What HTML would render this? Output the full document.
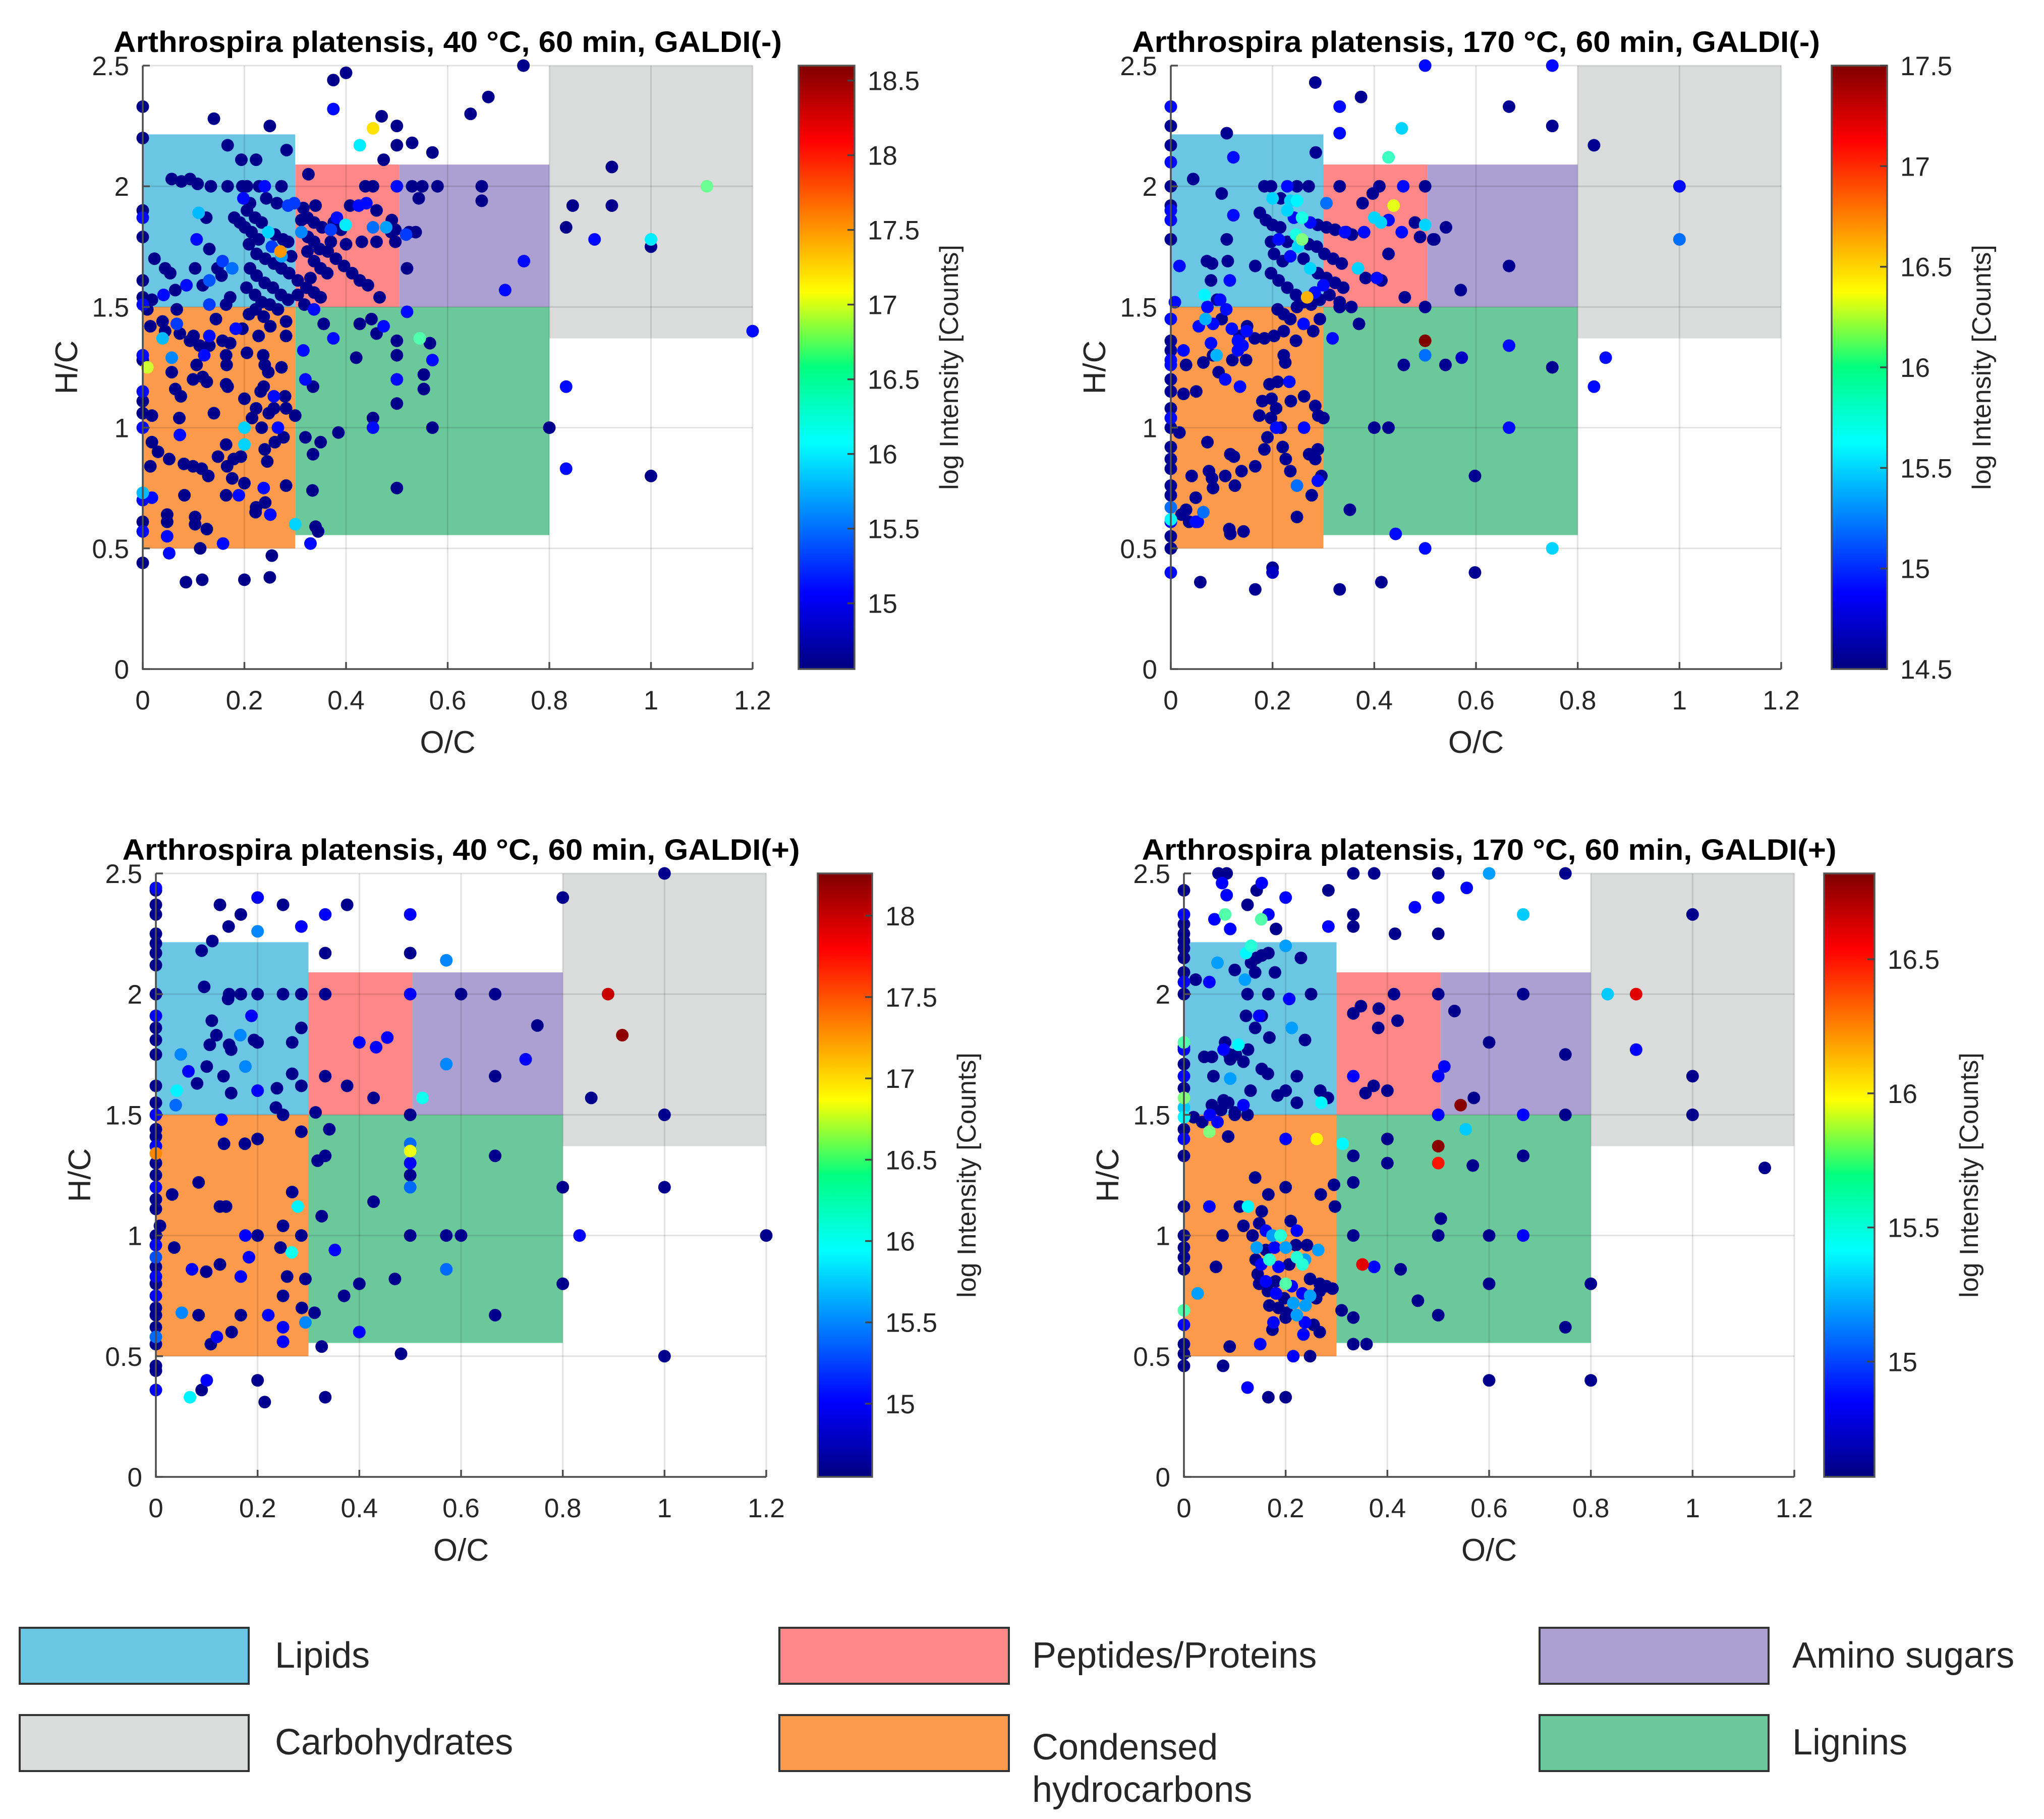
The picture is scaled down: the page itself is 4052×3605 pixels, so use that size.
<!DOCTYPE html>
<html><head><meta charset="utf-8"><title>Van Krevelen diagrams</title>
<style>html,body{margin:0;padding:0;background:#fff}svg{display:block}text{font-family:"Liberation Sans",Arial,sans-serif;fill:#262626}</style>
</head><body>
<svg id="chart" xmlns="http://www.w3.org/2000/svg" width="4052" height="3605" viewBox="0 0 4052 3605">
<defs><linearGradient id="jetgrad" x1="0" y1="1" x2="0" y2="0">
<stop offset="0" stop-color="#000080"/><stop offset="0.125" stop-color="#0000ff"/><stop offset="0.375" stop-color="#00ffff"/><stop offset="0.5" stop-color="#00ff80"/><stop offset="0.625" stop-color="#ffff00"/><stop offset="0.875" stop-color="#ff0000"/><stop offset="1" stop-color="#800000"/></linearGradient></defs>
<g id="legend">
<rect x="39" y="3226" width="454" height="111" fill="#6bc6e3" stroke="#333" stroke-width="4"/>
<text x="545" y="3305" font-size="72">Lipids</text>
<rect x="1545" y="3226" width="455" height="111" fill="#ff8787" stroke="#333" stroke-width="4"/>
<text x="2046" y="3305" font-size="72">Peptides/Proteins</text>
<rect x="3052" y="3226" width="454" height="111" fill="#ac9fd1" stroke="#333" stroke-width="4"/>
<text x="3553" y="3305" font-size="72">Amino sugars</text>
<rect x="39" y="3399" width="454" height="111" fill="#dadcdb" stroke="#333" stroke-width="4"/>
<text x="545" y="3477" font-size="72">Carbohydrates</text>
<rect x="1545" y="3399" width="455" height="111" fill="#fd9a4c" stroke="#333" stroke-width="4"/>
<text x="2046" y="3487" font-size="72">Condensed</text>
<text x="2046" y="3571" font-size="72">hydrocarbons</text>
<rect x="3052" y="3399" width="454" height="111" fill="#6bc89b" stroke="#333" stroke-width="4"/>
<text x="3553" y="3477" font-size="72">Lignins</text>
</g>
</svg>
<script>
const xTicks = [0,0.2,0.4,0.6,0.8,1,1.2];
const yTicks = [0,0.5,1,1.5,2,2.5];
const xTickLabels = ["0","0.2","0.4","0.6","0.8","1","1.2"];
const yTickLabels = ["0","0.5","1","1.5","2","2.5"];
const regionNames = ["lipids","peptides","amino-sugars","carbohydrates","condensed","lignins"];
const regionOC0 = [0,0.3,0.505,0.8,0,0.3];
const regionOC1 = [0.3,0.505,0.8,1.2,0.3,0.8];
const regionHC0 = [1.5,1.5,1.5,1.37,0.5,0.555];
const regionHC1 = [2.215,2.09,2.09,2.5,1.5,1.5];
const regionColors = ["#6bc6e3","#ff8787","#ac9fd1","#dadcdb","#fd9a4c","#6bc89b"];

const titles = ["Arthrospira platensis, 40 °C, 60 min, GALDI(-)","Arthrospira platensis, 170 °C, 60 min, GALDI(-)","Arthrospira platensis, 40 °C, 60 min, GALDI(+)","Arthrospira platensis, 170 °C, 60 min, GALDI(+)"];
const cbMin = [14.56,14.5,14.55,14.57];
const cbMax = [18.6,17.5,18.26,16.82];
const cbTicks0 = [15,15.5,16,16.5,17,17.5,18,18.5];
const cbTicks1 = [14.5,15,15.5,16,16.5,17,17.5];
const cbTicks2 = [15,15.5,16,16.5,17,17.5,18];
const cbTicks3 = [15,15.5,16,16.5];

// points: [O/C, H/C, log intensity]
const tlPoints = [[0.749,2.5,14.6],[0.375,2.32,15.1],[0.375,2.44,14.6],[0.40,2.47,14.6],[0.25,2.25,14.6],[0.14,2.28,14.6],[0,2.33,14.6],[0,2.2,14.6],[0.453,2.24,17.2],[0.427,2.17,16.0],[0.47,2.29,14.6],[0.5,2.25,14.6],[0.5,2.17,14.6],[0.53,2.18,14.6],[0.57,2.14,14.6],[0.645,2.3,14.6],[0.68,2.37,14.6],[0.474,2.11,14.6],[0.326,2.05,14.6],[0.923,2.08,14.6],[1.11,2.0,16.5],[0.846,1.92,14.6],[0.923,1.92,14.6],[0.833,1.83,14.6],[0.889,1.78,15.1],[1.0,1.78,16.0],[1.0,1.75,14.6],[1.2,1.40,15.1],[0.75,1.69,15.1],[0.713,1.57,15.1],[0.667,2.0,14.6],[0.667,1.94,14.6],[0.58,2.0,14.6],[0.543,1.95,14.6],[0.55,2.0,14.6],[0.53,2.0,14.6],[0.5,2.0,15.1],[0.833,1.17,15.1],[0.8,1.0,14.6],[0.833,0.83,15.1],[1.0,0.80,14.6],[0.5,0.75,14.6],[0.5,1.10,14.6],[0.5,1.2,15.1],[0.5,1.3,14.6],[0.5,1.36,14.6],[0.57,1.0,14.6],[0.553,1.16,14.6],[0.553,1.22,14.6],[0.57,1.28,15.1],[0.565,1.35,14.6],[0.545,1.37,16.4],[0.52,1.48,15.1],[0.474,1.42,15.1],[0.46,1.39,14.6],[0.45,1.45,14.6],[0.427,1.43,14.6],[0.42,1.29,14.6],[0.453,1.04,14.6],[0.453,1.0,15.1],[0.385,0.98,14.6],[0.35,0.94,14.6],[0.335,0.89,14.6],[0.32,0.96,14.6],[0.30,1.05,14.6],[0.32,1.2,15.1],[0.335,1.17,14.6],[0.316,1.32,15.1],[0.375,1.37,15.1],[0.356,1.43,14.6],[0.334,0.74,14.6],[0.34,0.59,14.6],[0.345,0.57,14.6],[0.33,0.52,15.1],[0.3,0.60,15.9],[0.254,0.47,14.6],[0.25,0.38,14.6],[0.2,0.37,14.6],[0.117,0.37,14.6],[0.085,0.36,14.6],[0.052,0.48,15.1],[0,0.44,14.6],[0.113,0.50,14.6],[0.158,0.52,15.1],[0,0.61,14.6],[0,0.57,15.1],[0,0.70,15.1],[0,0.73,15.8],[0.018,0.71,15.1],[0.048,0.64,14.6],[0.048,0.61,14.6],[0.048,0.55,15.1],[0.082,0.72,14.6],[0.126,0.58,14.6],[0.103,0.63,14.6],[0.103,0.60,14.6],[0.223,0.67,14.6],[0.2,0.77,14.6],[0.238,0.75,15.1],[0.282,0.76,14.6],[0.009,1.25,16.9],[0,1.28,14.6],[0,1.30,15.1],[0,1.15,15.1],[0,1.06,14.6],[0,1.0,15.1],[0,1.11,14.6],[0.018,1.05,14.6],[0.018,0.94,14.6],[0.03,0.90,14.6],[0.015,0.84,14.6],[0.015,1.42,14.6],[0.039,1.37,15.8],[0.057,1.29,15.6],[0.057,1.23,14.6],[0.064,1.16,14.6],[0.075,1.13,14.6],[0.072,1.04,14.6],[0.073,0.97,15.1],[0.052,0.87,14.6],[0.081,0.85,14.6],[0.099,0.84,14.6],[0.116,0.83,14.6],[0.129,0.80,14.6],[0.148,0.88,14.6],[0.166,0.84,14.6],[0.179,0.87,14.6],[0.193,0.88,14.6],[0.164,0.93,14.6],[0.099,1.2,14.6],[0.126,1.19,14.6],[0.167,1.17,14.6],[0.14,1.06,14.6],[0.2,1.12,14.6],[0.2,1.0,15.9],[0.2,0.93,15.9],[0.215,1.04,14.6],[0.223,1.08,14.6],[0.234,1.0,14.6],[0.248,1.06,14.6],[0.24,0.91,14.6],[0.245,0.86,14.6],[0.26,0.94,14.6],[0.277,0.96,14.6],[0.258,1.08,14.6],[0.282,1.08,14.6],[0.232,1.15,14.6],[0.258,1.13,15.1],[0.238,1.17,14.6],[0.205,1.31,14.6],[0.237,1.30,14.6],[0.247,1.23,14.6],[0.282,1.38,14.6],[0.282,1.44,14.6],[0.251,1.42,14.6],[0.228,1.38,14.6],[0.196,1.41,14.6],[0.209,1.47,14.6],[0.222,1.49,14.6],[0.238,1.46,14.6],[0.172,1.35,14.6],[0.157,1.36,14.6],[0.164,1.30,14.6],[0.165,1.26,14.6],[0.164,1.18,14.6],[0.131,1.34,14.6],[0.112,1.34,14.6],[0.093,1.36,14.6],[0.121,1.30,15.1],[0.106,1.26,14.6],[0.118,1.21,14.6],[0.144,1.45,14.6],[0.131,1.38,15.1],[0.1,1.38,14.6],[0.073,1.39,14.6],[0.067,1.43,15.3],[0.039,1.44,14.6],[0.044,1.40,14.6],[0.183,1.41,15.1],[0.24,1.26,14.6],[0.273,1.25,14.6],[0.28,1.13,14.6],[0.266,1.0,15.1],[0.176,0.79,14.6],[0.189,0.72,15.1],[0.241,0.69,14.6],[0.251,0.64,15.1],[0.222,0.65,14.6],[0.164,0.72,14.6],[0,1.9,14.6],[0,1.87,15.1],[0,1.79,14.6],[0,1.61,14.6],[0,1.54,14.6],[0,1.51,15.1],[0.018,1.53,14.6],[0.009,1.49,14.6],[0.023,1.70,14.6],[0.044,1.66,14.6],[0.054,1.64,14.6],[0.041,1.55,15.1],[0.064,1.57,14.6],[0.067,1.49,14.6],[0.086,1.59,15.1],[0.057,2.03,14.6],[0.076,2.02,14.6],[0.093,2.03,14.6],[0.108,2.01,14.6],[0.134,2.0,14.6],[0.11,1.89,15.8],[0.125,1.87,14.6],[0.106,1.78,15.1],[0.131,1.74,14.6],[0.103,1.66,14.6],[0.131,1.61,15.4],[0.118,1.59,14.6],[0.131,1.51,15.3],[0.164,1.51,14.6],[0.157,1.69,15.3],[0.176,1.66,15.5],[0.172,1.54,14.6],[0.155,1.63,14.6],[0.147,1.66,14.6],[0.167,2.17,14.6],[0.194,2.11,14.6],[0.223,2.11,14.6],[0.283,2.15,14.6],[0.167,2.0,14.6],[0.196,2.0,14.6],[0.205,2.0,14.6],[0.229,2.0,14.6],[0.24,2.0,15.1],[0.273,2.0,14.6],[0.198,1.95,15.1],[0.211,1.93,14.6],[0.243,1.95,14.6],[0.264,1.93,14.6],[0.18,1.87,14.6],[0.191,1.85,14.6],[0.201,1.83,14.6],[0.214,1.81,14.6],[0.228,1.78,14.6],[0.205,1.90,14.6],[0.221,1.87,14.6],[0.234,1.85,14.6],[0.247,1.81,15.9],[0.26,1.80,14.6],[0.276,1.78,14.6],[0.286,1.77,14.6],[0.209,1.76,14.6],[0.224,1.72,14.6],[0.241,1.70,14.6],[0.258,1.68,14.6],[0.273,1.66,14.6],[0.288,1.64,14.6],[0.305,1.61,14.6],[0.322,1.58,14.6],[0.337,1.56,14.6],[0.35,1.54,14.6],[0.211,1.66,14.6],[0.224,1.63,14.6],[0.24,1.60,14.6],[0.256,1.58,14.6],[0.272,1.55,14.6],[0.286,1.53,14.6],[0.204,1.58,14.6],[0.221,1.55,14.6],[0.234,1.52,14.6],[0.25,1.51,14.6],[0.266,1.49,14.6],[0.273,1.71,15.7],[0.254,1.75,15.3],[0.271,1.73,17.5],[0.292,1.71,14.6],[0.312,1.86,14.6],[0.324,1.87,14.6],[0.337,1.85,14.6],[0.353,1.83,14.6],[0.34,1.92,14.6],[0.316,1.91,14.6],[0.298,1.93,15.3],[0.286,1.92,15.3],[0.312,1.81,15.6],[0.325,1.79,14.6],[0.337,1.77,14.6],[0.348,1.74,14.6],[0.364,1.73,14.6],[0.38,1.70,14.6],[0.396,1.67,14.6],[0.412,1.64,14.6],[0.427,1.61,14.6],[0.443,1.59,14.6],[0.466,1.54,14.6],[0.324,1.73,14.6],[0.337,1.69,14.6],[0.35,1.66,14.6],[0.363,1.64,14.6],[0.33,1.62,14.6],[0.305,1.55,14.6],[0.318,1.51,14.6],[0.337,1.49,15.1],[0.376,1.85,14.6],[0.39,1.82,14.6],[0.399,1.84,16.0],[0.382,1.87,15.1],[0.37,1.82,15.3],[0.408,1.92,14.6],[0.425,1.92,15.1],[0.438,2.0,14.6],[0.453,2.0,14.6],[0.44,1.93,15.1],[0.46,1.90,14.6],[0.453,1.83,15.5],[0.479,1.83,15.7],[0.489,1.81,14.6],[0.497,1.82,14.6],[0.518,1.80,15.3],[0.524,1.81,14.6],[0.537,1.81,14.6],[0.497,1.77,14.6],[0.46,1.77,14.6],[0.431,1.77,14.6],[0.49,1.86,14.6],[0.52,1.66,14.6],[0.40,1.76,14.6],[0.37,1.77,14.6]];

const trPoints = [[0.5,2.5,14.9],[0.75,2.5,14.9],[0.284,2.43,14.55],[0.332,2.33,14.9],[0.374,2.37,14.55],[0.332,2.22,14.9],[0.454,2.24,15.5],[0.428,2.12,15.8],[0.665,2.33,14.55],[0.75,2.25,14.55],[0.832,2.17,14.55],[1.0,2.0,14.9],[1.0,1.78,15.2],[0.855,1.29,14.9],[0.832,1.17,14.9],[0.665,1.67,14.55],[0.57,1.57,14.55],[0.541,1.83,14.55],[0.518,1.78,14.55],[0.5,1.5,14.55],[0.5,1.36,17.5],[0.5,1.30,15.2],[0.54,1.26,14.55],[0.572,1.29,14.7],[0.665,1.34,14.9],[0.75,1.25,14.55],[0.458,1.26,14.55],[0.4,1.0,14.55],[0.428,1.0,14.55],[0.665,1.0,14.9],[0.598,0.80,14.55],[0.352,0.66,14.55],[0.442,0.56,14.9],[0.5,0.5,14.9],[0.75,0.5,15.5],[0.598,0.40,14.55],[0.414,0.36,14.55],[0.332,0.33,14.55],[0.2,0.42,14.55],[0.2,0.40,14.7],[0.166,0.33,14.55],[0.058,0.36,14.55],[0,0.40,14.9],[0.37,1.43,14.55],[0.318,1.37,14.9],[0.46,1.54,14.55],[0.355,1.50,14.55],[0.332,2.0,14.55],[0.41,2.0,14.55],[0.457,2.0,14.9],[0.5,2.0,14.55],[0.397,1.97,14.55],[0.377,1.93,14.55],[0.438,1.92,16.3],[0.413,1.85,15.5],[0.4,1.87,15.5],[0.428,1.86,14.9],[0.454,1.81,14.9],[0.48,1.85,14.55],[0.5,1.84,15.5],[0.49,1.79,14.55],[0.516,1.78,14.55],[0.428,1.72,14.55],[0.405,1.62,14.9],[0.414,1.61,14.55],[0.38,1.81,14.9],[0.356,1.80,14.55],[0.342,1.81,14.9],[0.368,1.66,15.5],[0.383,1.62,14.55],[0.285,2.14,14.55],[0.11,2.22,14.55],[0.123,2.12,14.9],[0.044,2.03,14.55],[0.1,1.97,14.55],[0.123,1.88,14.9],[0.11,1.78,14.55],[0.112,1.69,14.55],[0.081,1.68,14.55],[0.071,1.69,14.55],[0.116,1.61,14.9],[0.079,1.61,14.55],[0.017,1.67,14.9],[0.008,1.52,14.9],[0,2.33,14.9],[0,2.25,14.55],[0,2.17,14.55],[0,2.10,14.9],[0,2.0,14.55],[0,1.92,14.55],[0,1.9,14.9],[0,1.86,14.9],[0,1.78,14.55],[0,1.45,14.9],[0,1.36,14.55],[0,1.32,14.55],[0,1.28,14.9],[0,1.26,14.9],[0,1.2,14.55],[0,1.15,14.55],[0,1.08,14.55],[0,1.04,14.9],[0,1.0,14.55],[0,0.92,14.55],[0,0.87,14.55],[0,0.83,14.55],[0,0.76,14.55],[0,0.72,14.55],[0,0.67,15.2],[0,0.62,15.6],[0,0.61,14.9],[0,0.55,14.55],[0,0.5,14.55],[0.017,0.98,14.55],[0.025,1.32,14.9],[0.03,1.26,14.55],[0.025,1.14,14.55],[0.05,1.15,14.55],[0.03,0.66,14.55],[0.021,0.64,14.55],[0.036,0.61,14.55],[0.049,0.61,14.9],[0.053,0.61,14.9],[0.064,0.65,15.2],[0.049,0.71,14.55],[0.041,0.80,14.55],[0.072,0.94,14.55],[0.075,0.82,14.55],[0.083,0.75,14.55],[0.081,0.79,14.55],[0.107,0.80,14.55],[0.126,0.76,14.55],[0.115,0.58,14.55],[0.117,0.56,14.55],[0.143,0.57,14.55],[0.139,0.82,14.55],[0.117,0.89,14.55],[0.124,0.88,14.55],[0.166,0.84,14.55],[0.184,0.91,14.55],[0.19,0.96,14.55],[0.207,1.0,14.9],[0.216,1.0,14.55],[0.197,1.04,14.55],[0.18,1.11,14.55],[0.198,1.12,14.55],[0.207,1.08,14.55],[0.194,1.18,14.55],[0.21,1.19,14.55],[0.233,1.19,14.9],[0.236,1.11,14.55],[0.262,1.13,14.55],[0.262,1.0,14.9],[0.284,1.09,14.55],[0.29,1.05,14.55],[0.3,1.04,14.55],[0.289,0.91,14.55],[0.272,0.89,14.55],[0.284,0.87,14.55],[0.296,0.80,14.55],[0.289,0.78,14.9],[0.277,0.72,14.55],[0.248,0.76,15.2],[0.248,0.63,14.55],[0.235,0.82,14.55],[0.226,0.87,14.55],[0.22,0.92,14.55],[0.174,1.05,14.55],[0.225,1.27,14.55],[0.222,1.30,14.55],[0.064,1.27,14.55],[0.083,1.30,14.55],[0.094,1.23,14.55],[0.107,1.20,14.9],[0.121,1.28,14.55],[0.136,1.17,14.9],[0.148,1.28,14.55],[0.165,1.37,14.55],[0.184,1.37,14.55],[0.203,1.38,14.55],[0.222,1.40,14.55],[0.246,1.36,14.55],[0.261,1.43,14.9],[0.28,1.40,14.55],[0.293,1.45,14.55],[0.079,1.35,14.9],[0.1,1.45,14.55],[0.12,1.41,14.9],[0.135,1.38,14.55],[0.15,1.42,14.55],[0.109,1.49,14.9],[0.091,1.53,14.55],[0.072,1.50,14.9],[0.068,1.45,15.4],[0.066,1.55,15.6],[0.097,1.53,14.9],[0.09,1.30,15.4],[0.055,1.42,14.9],[0.083,1.43,14.9],[0.141,1.34,14.9],[0.132,1.36,14.9],[0.132,1.32,14.9],[0.149,1.40,14.9],[0.166,1.67,14.55],[0.184,2.0,14.55],[0.197,2.0,14.55],[0.229,2.0,14.9],[0.248,2.0,14.55],[0.271,2.0,14.55],[0.2,1.95,15.5],[0.216,1.95,14.55],[0.235,1.94,15.5],[0.248,1.94,15.6],[0.306,1.93,15.2],[0.175,1.89,14.55],[0.187,1.86,14.55],[0.2,1.84,14.55],[0.215,1.83,14.55],[0.229,1.90,15.5],[0.242,1.87,14.9],[0.258,1.87,15.7],[0.274,1.85,14.9],[0.289,1.84,14.55],[0.306,1.83,14.55],[0.323,1.82,14.55],[0.345,1.81,14.55],[0.197,1.77,14.55],[0.212,1.78,14.9],[0.229,1.77,14.55],[0.246,1.80,15.7],[0.258,1.78,16.0],[0.271,1.76,14.55],[0.25,1.75,15.5],[0.287,1.75,14.55],[0.302,1.72,14.55],[0.319,1.70,14.55],[0.336,1.68,14.55],[0.203,1.72,14.55],[0.22,1.69,14.55],[0.235,1.71,14.9],[0.261,1.70,14.55],[0.274,1.66,15.5],[0.289,1.64,14.55],[0.306,1.62,14.55],[0.323,1.60,14.55],[0.339,1.58,14.55],[0.197,1.64,14.55],[0.212,1.61,14.55],[0.229,1.58,14.55],[0.246,1.55,14.55],[0.261,1.52,14.55],[0.276,1.51,14.55],[0.293,1.53,14.55],[0.312,1.55,14.55],[0.332,1.52,14.55],[0.332,1.50,14.55],[0.268,1.54,16.6],[0.21,1.49,14.55],[0.222,1.47,14.55],[0.235,1.45,14.55],[0.248,1.50,14.55],[0.283,1.56,14.9],[0.3,1.59,14.9]];

const blPoints = [[1.0,2.5,14.6],[0.8,2.4,14.6],[0,2.44,15.0],[0,2.43,14.6],[0,2.37,14.6],[0,2.33,14.6],[0,2.25,14.6],[0,2.21,14.6],[0,2.17,14.6],[0,2.12,14.6],[0,2.0,14.6],[0,1.91,15.0],[0,1.86,14.6],[0,1.81,14.6],[0,1.75,14.6],[0,1.62,14.6],[0,1.55,14.6],[0,1.5,15.0],[0,1.44,14.6],[0,1.41,14.6],[0,1.37,15.0],[0,1.34,17.3],[0,1.30,14.6],[0,1.25,14.6],[0,1.2,15.0],[0,1.15,14.6],[0,1.11,14.6],[0,1.0,14.6],[0,0.96,15.0],[0,0.91,15.3],[0,0.87,14.6],[0,0.83,15.0],[0,0.80,14.6],[0,0.75,15.0],[0,0.70,14.6],[0,0.67,14.6],[0,0.62,14.6],[0,0.58,15.4],[0,0.55,14.6],[0,0.46,14.6],[0,0.44,14.6],[0,0.36,15.0],[0.067,0.33,15.9],[0.09,0.36,14.6],[0.1,0.40,15.0],[0.2,0.40,14.6],[0.214,0.31,14.6],[0.333,0.33,14.6],[0.482,0.51,14.6],[1.0,0.5,14.6],[1.0,1.2,14.6],[1.0,1.5,14.6],[1.2,1.0,14.6],[0.833,1.0,15.0],[0.8,1.2,14.6],[0.8,0.8,14.6],[0.856,1.57,14.6],[0.889,2.0,18.0],[0.917,1.83,18.2],[0.75,1.87,14.6],[0.727,1.73,15.0],[0.667,2.0,14.6],[0.6,2.0,14.6],[0.667,1.66,14.6],[0.571,1.71,15.5],[0.571,2.14,15.5],[0.5,2.17,14.6],[0.5,2.33,15.0],[0.5,2.0,15.0],[0.333,2.33,15.0],[0.333,2.17,14.6],[0.376,2.37,14.6],[0.286,2.28,15.0],[0.25,2.37,14.6],[0.2,2.4,15.0],[0.2,2.26,15.5],[0.126,2.37,14.6],[0.167,2.33,14.6],[0.143,2.28,14.6],[0.111,2.22,14.6],[0.09,2.18,14.6],[0.095,2.03,14.6],[0.144,2.0,14.6],[0.167,2.0,14.6],[0.2,2.0,14.6],[0.25,2.0,14.6],[0.286,2.0,14.6],[0.333,2.0,14.6],[0.142,1.98,14.6],[0.11,1.89,14.6],[0.119,1.83,14.6],[0.106,1.79,14.6],[0.144,1.79,14.6],[0.148,1.77,14.6],[0.166,1.83,15.5],[0.188,1.91,15.0],[0.193,1.81,14.6],[0.2,1.80,14.6],[0.268,1.80,14.6],[0.286,1.86,14.6],[0.176,1.70,15.5],[0.1,1.70,14.6],[0.064,1.68,15.0],[0.049,1.75,15.5],[0.133,1.66,14.6],[0.081,1.63,14.6],[0.148,1.59,14.6],[0.2,1.60,15.0],[0.238,1.61,14.6],[0.268,1.67,14.6],[0.286,1.62,14.6],[0.041,1.60,15.9],[0.039,1.54,15.4],[0.236,1.53,14.6],[0.25,1.5,14.6],[0.129,1.48,15.0],[0.134,1.38,14.6],[0.175,1.38,14.6],[0.2,1.40,14.6],[0.286,1.43,14.6],[0.084,1.22,14.6],[0.032,1.17,14.6],[0.268,1.18,14.6],[0.126,1.12,14.6],[0.138,1.12,14.6],[0.279,1.12,15.9],[0.176,1.0,15.0],[0.2,1.0,14.6],[0.25,1.04,14.6],[0.286,1.0,14.6],[0.036,0.95,14.6],[0.245,0.95,14.6],[0.267,0.93,16.0],[0.183,0.91,15.0],[0.126,0.88,14.6],[0.071,0.86,15.0],[0.099,0.85,14.6],[0.167,0.83,15.0],[0.258,0.83,14.6],[0.294,0.82,14.6],[0.25,0.75,14.6],[0.287,0.70,14.6],[0.312,0.68,14.6],[0.051,0.68,15.5],[0.084,0.67,14.6],[0.167,0.67,14.6],[0.221,0.67,15.0],[0.294,0.64,15.5],[0.25,0.62,15.0],[0.149,0.60,14.6],[0.12,0.58,15.0],[0.108,0.55,14.6],[0.25,0.56,15.0],[0.326,0.54,14.6],[0.4,0.60,15.0],[0.008,1.04,14.6],[0.314,1.51,14.6],[0.341,1.44,14.6],[0.333,1.33,14.6],[0.318,1.31,14.6],[0.326,1.08,14.6],[0.352,0.94,15.0],[0.37,0.75,14.6],[0.4,0.80,14.6],[0.47,0.82,14.6],[0.428,1.14,14.6],[0.5,1.5,14.6],[0.5,1.38,15.4],[0.5,1.35,16.8],[0.5,1.30,15.0],[0.5,1.25,14.6],[0.5,1.2,15.4],[0.5,1.0,14.6],[0.571,1.0,14.6],[0.6,1.0,14.6],[0.571,0.86,15.4],[0.667,1.33,14.6],[0.667,0.67,14.6],[0.4,1.80,15.0],[0.433,1.78,15.0],[0.455,1.82,15.0],[0.333,1.66,14.6],[0.376,1.62,14.6],[0.428,1.57,14.6],[0.524,1.57,16.0]];

const brPoints = [[0.068,2.5,14.6],[0.084,2.5,14.6],[0.333,2.5,14.6],[0.374,2.5,14.6],[0.5,2.5,14.6],[0.6,2.5,15.2],[0.75,2.5,14.6],[0.556,2.44,14.85],[0.5,2.4,14.85],[0.454,2.36,14.85],[0.667,2.33,15.3],[1.0,2.33,14.6],[0.415,2.25,14.6],[0.5,2.25,14.6],[0.333,2.33,14.6],[0.333,2.28,14.6],[0.284,2.28,14.85],[0.284,2.43,14.6],[0,2.43,14.6],[0,2.33,14.85],[0,2.29,14.6],[0,2.25,14.6],[0,2.22,14.6],[0,2.19,14.6],[0,2.15,14.6],[0,2.09,14.6],[0,2.05,14.85],[0,2.0,14.6],[0,1.78,14.85],[0,1.77,14.85],[0,1.71,14.6],[0,1.66,14.85],[0,1.61,14.6],[0,1.57,15.7],[0,1.53,15.3],[0,1.49,15.4],[0,1.44,14.6],[0,1.40,14.85],[0,1.33,14.6],[0,1.12,14.6],[0,1.0,14.6],[0,0.95,14.6],[0,0.91,14.6],[0,0.86,14.6],[0,0.69,15.6],[0,0.63,14.85],[0,0.55,14.6],[0,0.51,14.6],[0,0.46,14.6],[0,1.80,15.6],[0.2,0.33,14.6],[0.166,0.33,14.6],[0.125,0.37,14.85],[0.077,0.46,14.6],[0.09,0.54,14.6],[0.15,0.55,14.85],[0.215,0.50,14.85],[0.248,0.50,14.6],[0.6,0.40,14.6],[0.8,0.40,14.6],[0.75,0.62,14.6],[0.8,0.8,14.6],[0.6,0.8,14.6],[0.5,0.67,14.6],[0.46,0.73,14.6],[0.333,0.66,14.6],[0.31,0.69,14.6],[0.333,0.55,14.6],[0.359,0.55,14.6],[0.426,0.86,14.6],[0.374,0.87,14.85],[0.351,0.88,16.6],[0.333,1.0,14.6],[0.5,1.0,14.6],[0.6,1.0,14.6],[0.667,1.0,14.85],[0.505,1.07,14.6],[0.333,1.22,14.6],[0.297,1.12,14.6],[0.295,1.21,14.6],[0.333,1.33,14.6],[0.4,1.30,14.6],[0.4,1.40,14.6],[0.5,1.37,16.8],[0.5,1.30,16.5],[0.568,1.29,14.6],[0.554,1.44,15.3],[0.544,1.54,16.8],[0.57,1.57,14.6],[0.667,1.5,14.85],[0.75,1.5,14.6],[0.667,1.33,14.6],[1.0,1.5,14.6],[1.0,1.66,14.6],[1.142,1.28,14.6],[0.889,1.77,14.85],[0.833,2.0,15.3],[0.889,2.0,16.6],[0.75,1.75,14.6],[0.6,1.80,14.6],[0.667,2.0,14.6],[0.532,1.93,14.6],[0.512,1.70,14.85],[0.5,1.66,14.85],[0.5,2.0,14.6],[0.5,1.5,14.85],[0.413,2.0,14.6],[0.348,1.95,14.6],[0.333,1.92,14.6],[0.383,1.94,14.6],[0.42,1.89,14.6],[0.382,1.86,14.6],[0.333,1.66,14.85],[0.373,1.62,14.6],[0.357,1.59,14.6],[0.4,1.60,14.6],[0.312,1.38,15.4],[0.261,1.40,16.0],[0.2,1.40,14.85],[0.05,1.43,15.7],[0.087,1.41,14.6],[0.27,1.55,15.4],[0.283,1.57,14.6],[0.268,1.60,14.6],[0.222,1.55,14.6],[0.2,1.60,14.6],[0.184,1.58,14.6],[0.165,1.67,14.6],[0.153,1.69,14.6],[0.222,1.66,14.6],[0.131,1.60,14.6],[0.125,1.5,14.6],[0.1,1.5,14.6],[0.073,1.52,14.6],[0.087,1.55,14.6],[0.055,1.54,14.6],[0.019,1.49,14.6],[0.036,1.47,14.6],[0.066,1.47,14.85],[0.051,1.50,14.85],[0.117,1.54,14.85],[0.1,1.51,14.6],[0.078,1.56,14.6],[0.102,1.75,14.6],[0.091,1.73,14.6],[0.117,1.72,14.6],[0.126,1.77,14.6],[0.055,1.74,14.6],[0.081,1.80,14.6],[0.089,1.75,14.6],[0.04,1.74,14.6],[0.091,1.65,15.2],[0.058,1.66,14.6],[0.078,1.77,14.85],[0.107,1.79,15.4],[0.14,1.86,14.6],[0.148,1.91,14.85],[0.122,1.91,14.6],[0.153,1.91,14.6],[0.168,1.82,14.6],[0.212,1.86,15.2],[0.238,1.81,14.6],[0.179,2.09,14.6],[0.14,2.09,14.6],[0.1,2.10,14.6],[0.023,2.06,14.6],[0.05,2.05,14.85],[0.125,2.0,14.6],[0.166,2.0,14.6],[0.207,1.98,14.85],[0.25,2.0,14.6],[0.166,2.17,14.6],[0.132,2.13,14.6],[0.143,2.15,14.6],[0.153,2.16,14.6],[0.122,2.17,15.4],[0.132,2.2,15.5],[0.2,2.2,15.2],[0.23,2.15,14.6],[0.066,2.13,15.2],[0.12,2.06,15.2],[0.152,2.31,15.6],[0.166,2.33,14.85],[0.181,2.27,14.6],[0.2,2.4,14.85],[0.143,2.43,14.6],[0.153,2.46,14.85],[0.125,2.37,14.6],[0.06,2.31,14.85],[0.081,2.33,15.6],[0.091,2.27,14.85],[0.075,2.46,14.85],[0.084,2.41,14.85],[0.14,1.24,14.6],[0.166,1.17,14.6],[0.2,1.2,14.6],[0.269,1.17,14.6],[0.05,1.12,14.85],[0.11,1.12,14.6],[0.126,1.12,15.4],[0.153,1.10,14.6],[0.076,1.0,14.6],[0.117,1.04,14.6],[0.135,1.0,14.6],[0.148,1.05,14.6],[0.161,1.02,14.85],[0.174,1.0,15.2],[0.19,1.0,15.5],[0.21,1.06,14.6],[0.222,1.02,14.85],[0.143,0.95,15.2],[0.161,0.94,14.6],[0.178,0.95,14.85],[0.2,0.95,15.2],[0.22,0.96,14.6],[0.242,0.96,14.6],[0.264,0.94,15.2],[0.141,0.90,14.6],[0.152,0.88,14.85],[0.168,0.90,15.5],[0.186,0.87,14.85],[0.207,0.88,14.6],[0.222,0.91,15.5],[0.238,0.90,15.2],[0.233,0.88,15.5],[0.063,0.87,14.6],[0.145,0.84,14.6],[0.161,0.81,14.85],[0.18,0.81,14.6],[0.2,0.80,15.6],[0.212,0.79,14.85],[0.248,0.82,14.6],[0.267,0.80,14.6],[0.28,0.79,14.6],[0.292,0.78,14.6],[0.148,0.80,14.6],[0.165,0.77,14.6],[0.181,0.76,14.85],[0.197,0.74,14.6],[0.215,0.72,15.2],[0.233,0.76,14.85],[0.248,0.75,15.2],[0.267,0.77,14.6],[0.168,0.71,14.6],[0.186,0.70,14.6],[0.203,0.68,14.6],[0.222,0.67,15.2],[0.239,0.71,15.2],[0.26,0.74,14.6],[0.176,0.64,14.85],[0.2,0.66,14.6],[0.238,0.64,14.85],[0.255,0.63,14.6],[0.235,0.59,14.85],[0.267,0.60,14.6],[0.174,0.61,14.6],[0.027,0.76,15.2]];

const panelPoints = [tlPoints, trPoints, blPoints, brPoints];
const panelCbTicks = [cbTicks0, cbTicks1, cbTicks2, cbTicks3];
const panelIds = ["tl","tr","bl","br"];

// layout (pixel geometry, not data)
const layout = [
  {x0:283,x1:1492,y0:130,y1:1326,cb0:1583,cb1:1694,tl:1325},
  {x0:2321,x1:3531,y0:130,y1:1326,cb0:3631,cb1:3741,tl:1364},
  {x0:309,x1:1519,y0:1731,y1:2927,cb0:1621,cb1:1729,tl:1343},
  {x0:2347,x1:3557,y0:1731,y1:2927,cb0:3616,cb1:3716,tl:1377}
];

const NS = "http://www.w3.org/2000/svg";
const svg = document.getElementById("chart");
function mk(tag, attrs, parent){const e=document.createElementNS(NS,tag);for(const k in attrs)e.setAttribute(k,attrs[k]);(parent||svg).appendChild(e);return e;}
function clamp(v){return Math.max(0,Math.min(1,v));}
function jet(t){t=clamp(t);const r=clamp(1.5-Math.abs(4*t-3)),g=clamp(1.5-Math.abs(4*t-2)),b=clamp(1.5-Math.abs(4*t-1));return "rgb("+Math.round(r*255)+","+Math.round(g*255)+","+Math.round(b*255)+")";}

panelIds.forEach((pid,pi)=>{
  const L = layout[pi];
  const xS = v => L.x0 + v/1.2*(L.x1-L.x0);
  const yS = v => L.y1 - v/2.5*(L.y1-L.y0);
  const g = mk("g",{});
  
  
  regionNames.forEach((rn,ri)=>{
    const r = mk("rect",{x:xS(regionOC0[ri]),y:yS(regionHC1[ri]),width:xS(regionOC1[ri])-xS(regionOC0[ri]),height:yS(regionHC0[ri])-yS(regionHC1[ri]),fill:regionColors[ri]},g);
    
    
  });
  xTicks.forEach((v,i)=>{
    if(i===0) return;
    const l = mk("line",{x1:xS(v),x2:xS(v),y1:L.y0,y2:L.y1,stroke:"rgba(0,0,0,0.11)","stroke-width":3},g);
    
    
  });
  yTicks.forEach((v,i)=>{
    if(i===0) return;
    const l = mk("line",{x1:L.x0,x2:L.x1,y1:yS(v),y2:yS(v),stroke:"rgba(0,0,0,0.11)","stroke-width":3},g);
    
    
  });
  const cmin = cbMin[pi], cmax = cbMax[pi];
  const pts = panelPoints[pi].slice().sort((a,b)=>a[2]-b[2]);
  pts.forEach(p=>{
    const c = mk("circle",{cx:xS(p[0]),cy:yS(p[1]),r:12.5,fill:jet((p[2]-cmin)/(cmax-cmin))},g);
    
    
  });
  const ax = mk("path",{d:"M"+L.x0+" "+L.y0+" V"+L.y1+" H"+L.x1,fill:"none",stroke:"#4d4d4d","stroke-width":3.5},g);
  
  
  xTicks.forEach((v,i)=>{
    const t = mk("line",{x1:xS(v),x2:xS(v),y1:L.y1,y2:L.y1-14,stroke:"#4d4d4d","stroke-width":3.5},g);
    
    
    const tx = mk("text",{x:xS(v),y:L.y1+80,"font-size":53,"text-anchor":"middle"},g);
    tx.textContent = xTickLabels[i];
    
    
  });
  yTicks.forEach((v,i)=>{
    const t = mk("line",{x1:L.x0,x2:L.x0+14,y1:yS(v),y2:yS(v),stroke:"#4d4d4d","stroke-width":3.5},g);
    
    
    const tx = mk("text",{x:L.x0-27,y:yS(v)+19,"font-size":53,"text-anchor":"end"},g);
    tx.textContent = yTickLabels[i];
    
    
  });
  const xl = mk("text",{x:(L.x0+L.x1)/2,y:L.y1+166,"font-size":62,"text-anchor":"middle"},g);
  xl.textContent = "O/C";
  
  
  const ymid = (L.y0+L.y1)/2;
  const yl = mk("text",{x:L.x0-130,y:ymid,"font-size":62,"text-anchor":"middle",transform:"rotate(-90 "+(L.x0-130)+" "+ymid+")"},g);
  yl.textContent = "H/C";
  
  
  const tt = mk("text",{x:(L.x0+L.x1)/2,y:L.y0-27,"font-size":58,"font-weight":"bold","text-anchor":"middle",textLength:L.tl,lengthAdjust:"spacingAndGlyphs",style:"fill:#000"},g);
  tt.textContent = titles[pi];
  
  
  const cb = mk("rect",{x:L.cb0,y:L.y0,width:L.cb1-L.cb0,height:L.y1-L.y0,fill:"url(#jetgrad)",stroke:"#555","stroke-width":3.5},g);
  
  
  const cS = v => L.y1 - (v-cmin)/(cmax-cmin)*(L.y1-L.y0);
  panelCbTicks[pi].forEach(v=>{
    const t = mk("line",{x1:L.cb1,x2:L.cb1-14,y1:cS(v),y2:cS(v),stroke:"#444","stroke-width":3.5},g);
    
    
    const tx = mk("text",{x:L.cb1+26,y:cS(v)+19,"font-size":53},g);
    tx.textContent = String(v);
    
    
  });
  const cx = L.cb1+205;
  const cl = mk("text",{x:cx,y:ymid,"font-size":52,"text-anchor":"middle",transform:"rotate(-90 "+cx+" "+ymid+")"},g);
  cl.textContent = "log Intensity [Counts]";
  
  
});
</script>
</body></html>
